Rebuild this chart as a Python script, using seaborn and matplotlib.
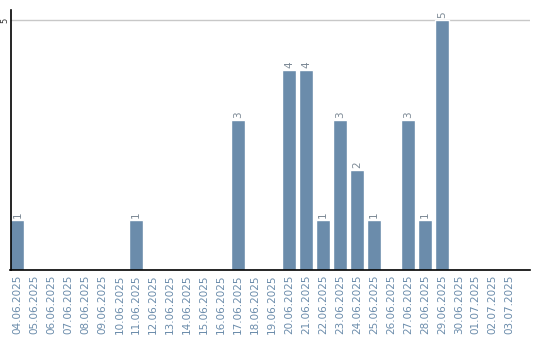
import matplotlib
matplotlib.use("Agg")
import matplotlib.pyplot as plt
import seaborn as sns
import pandas as pd

dates = ["04.06.2025", "05.06.2025", "06.06.2025", "07.06.2025", "08.06.2025",
         "09.06.2025", "10.06.2025", "11.06.2025", "12.06.2025", "13.06.2025",
         "14.06.2025", "15.06.2025", "16.06.2025", "17.06.2025", "18.06.2025",
         "19.06.2025", "20.06.2025", "21.06.2025", "22.06.2025", "23.06.2025",
         "24.06.2025", "25.06.2025", "26.06.2025", "27.06.2025", "28.06.2025",
         "29.06.2025", "30.06.2025", "01.07.2025", "02.07.2025", "03.07.2025"]
counts = [1, 0, 0, 0, 0, 0, 0, 1, 0, 0,
          0, 0, 0, 3, 0, 0, 4, 4, 1, 3,
          2, 1, 0, 3, 1, 5, 0, 0, 0, 0]
y_ticks = [5]

df = pd.DataFrame({"date": dates, "count": counts})

sns.set_style("white")
plt.rcParams['font.family'] = ['DejaVu Sans']

fig = plt.figure(figsize=(5.4, 3.4), dpi=100)
ax = fig.add_axes([10.5/540, 70/340, 519.5/540, 260/340])

bar_color = "#6b8cab"
bw = 0.82
sns.barplot(data=df, x="date", y="count", color=bar_color, width=bw,
            saturation=1, ax=ax, order=dates)

ax.set_xlim(-bw / 2, -bw / 2 + 30.6)
ax.set_ylim(0, 5.2)
ax.set_yticks(y_ticks)
ax.set_yticklabels([str(v) for v in y_ticks], rotation=90, fontsize=6,
                   ha="right", va="center", color="#333333")
ax.yaxis.grid(True, color="#c8c8c8", linewidth=1)
ax.set_axisbelow(True)
ax.tick_params(axis="y", length=0, pad=0.5)
ax.tick_params(axis="x", length=0, pad=3)
for lbl in ax.get_xticklabels():
    lbl.set_rotation(90)
    lbl.set_fontsize(7.5)
    lbl.set_color("#6b8cab")
    lbl.set_va("top")
    lbl.set_ha("center")
ax.set_xlabel("")
ax.set_ylabel("")

for s in ["top", "right"]:
    ax.spines[s].set_visible(False)
for s in ["left", "bottom"]:
    ax.spines[s].set_color("black")
    ax.spines[s].set_linewidth(1.2)

for i, v in enumerate(counts):
    if v > 0:
        ax.text(i, v + 0.05, str(v), rotation=90, ha="center", va="bottom",
                fontsize=7.5, color="#7d8a96")

fig.savefig("out.png", dpi=100)
